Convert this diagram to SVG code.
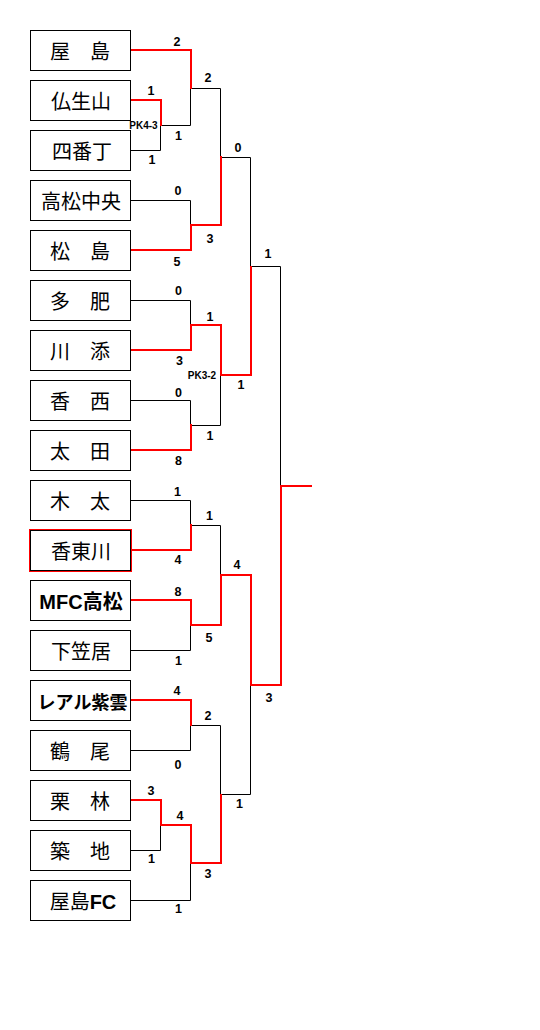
<svg xmlns="http://www.w3.org/2000/svg" width="540" height="1030" viewBox="0 0 540 1030">
<style>
.box{fill:#fff;stroke:#000;stroke-width:1}
.nm{font-family:"Liberation Sans","Noto Sans CJK JP",sans-serif;font-size:20px;text-anchor:middle;fill:#000}
.b{font-weight:bold}
.sm{font-size:18px}
.blk{fill:none;stroke:#000;stroke-width:1}
.red{fill:none;stroke:#ff0000;stroke-width:2;stroke-linecap:square;stroke-linejoin:miter}
.sc{font-family:"Liberation Sans",Arial,sans-serif;font-size:12.5px;font-weight:bold;text-anchor:middle;fill:#000}
.pk{font-family:"Liberation Sans",Arial,sans-serif;font-size:10px;font-weight:bold;text-anchor:middle;fill:#000}
</style>
<rect width="540" height="1030" fill="#fff"/>
<g id="connectors">
<path class="blk" d="M130 150.5H160.5V125.5 M160.5 125.5H190.5V88.5 M190.5 88.5H220.5V157.5 M130 200.5H190.5V225 M220.5 157.5H250.5V266.5 M130 300.5H190.5V325 M130 400.5H190.5V425.5 M190.5 425.5H220.5V375 M250.5 266.5H280.5V486 M130 500.5H190.5V525.5 M190.5 525.5H220.5V575 M130 650.5H190.5V625 M130 750.5H190.5V725.5 M190.5 725.5H220.5V794.5 M130 850.5H160.5V825 M130 900.5H190.5V863 M220.5 794.5H250.5V685"/>
<path class="red" d="M131 100H161V125"/>
<path class="red" d="M131 50H191V88"/>
<path class="red" d="M131 250H191V225H221V157"/>
<path class="red" d="M131 350H191V325H221V375H251V267"/>
<path class="red" d="M131 450H191V425"/>
<path class="red" d="M131 550H191V525"/>
<path class="red" d="M131 600H191V625H221V575H251V685H281V486H311"/>
<path class="red" d="M131 700H191V725"/>
<path class="red" d="M131 800H161V825H191V863H221V795"/>
</g>
<g id="scores">
<text class="sc" x="177" y="46">2</text>
<text class="sc" x="208" y="82">2</text>
<text class="sc" x="151" y="95">1</text>
<text class="pk" x="143.5" y="129">PK4-3</text>
<text class="sc" x="178.5" y="140">1</text>
<text class="sc" x="152" y="164">1</text>
<text class="sc" x="238" y="152">0</text>
<text class="sc" x="178" y="195">0</text>
<text class="sc" x="210" y="243">3</text>
<text class="sc" x="177" y="266">5</text>
<text class="sc" x="268" y="258">1</text>
<text class="sc" x="178.5" y="295">0</text>
<text class="sc" x="210" y="321">1</text>
<text class="sc" x="179.5" y="365">3</text>
<text class="pk" x="202" y="379">PK3-2</text>
<text class="sc" x="241" y="389">1</text>
<text class="sc" x="178.5" y="397">0</text>
<text class="sc" x="210" y="440">1</text>
<text class="sc" x="178.5" y="465">8</text>
<text class="sc" x="177.5" y="496">1</text>
<text class="sc" x="209.5" y="520">1</text>
<text class="sc" x="178" y="564">4</text>
<text class="sc" x="237" y="569">4</text>
<text class="sc" x="178" y="596">8</text>
<text class="sc" x="209" y="642">5</text>
<text class="sc" x="178.5" y="665">1</text>
<text class="sc" x="177" y="695">4</text>
<text class="sc" x="269" y="702">3</text>
<text class="sc" x="208" y="720">2</text>
<text class="sc" x="178" y="769">0</text>
<text class="sc" x="151" y="795">3</text>
<text class="sc" x="239.5" y="808">1</text>
<text class="sc" x="180" y="820">4</text>
<text class="sc" x="151.5" y="863">1</text>
<text class="sc" x="208" y="878">3</text>
<text class="sc" x="178.5" y="913">1</text>
</g>
<g id="team-yashima"><rect class="box" x="30.5" y="30.5" width="100" height="40"/><text class="nm" x="80" y="59">屋　島</text></g>
<g id="team-busshozan"><rect class="box" x="30.5" y="80.5" width="100" height="40"/><text class="nm" x="81" y="109">仏生山</text></g>
<g id="team-banchou"><rect class="box" x="30.5" y="130.5" width="100" height="40"/><text class="nm" x="82" y="159">四番丁</text></g>
<g id="team-takamatsuchuo"><rect class="box" x="30.5" y="180.5" width="100" height="40"/><text class="nm" x="81" y="209">高松中央</text></g>
<g id="team-matsushima"><rect class="box" x="30.5" y="230.5" width="100" height="40"/><text class="nm" x="80" y="259">松　島</text></g>
<g id="team-tahi"><rect class="box" x="30.5" y="280.5" width="100" height="40"/><text class="nm" x="80" y="309">多　肥</text></g>
<g id="team-kawazoe"><rect class="box" x="30.5" y="330.5" width="100" height="40"/><text class="nm" x="80" y="359">川　添</text></g>
<g id="team-kouzai"><rect class="box" x="30.5" y="380.5" width="100" height="40"/><text class="nm" x="80" y="409">香　西</text></g>
<g id="team-ota"><rect class="box" x="30.5" y="430.5" width="100" height="40"/><text class="nm" x="80" y="459">太　田</text></g>
<g id="team-kita"><rect class="box" x="30.5" y="480.5" width="100" height="40"/><text class="nm" x="80" y="509">木　太</text></g>
<g id="team-koutougawa"><rect x="29.5" y="529.5" width="102" height="42" fill="none" stroke="#ff0000" stroke-width="1"/><rect class="box" x="30.5" y="530.5" width="100" height="40"/><text class="nm" x="81" y="559">香東川</text></g>
<g id="team-mfc"><rect class="box" x="30.5" y="580.5" width="100" height="40"/><text class="nm b" x="81" y="609">MFC高松</text></g>
<g id="team-shimokasai"><rect class="box" x="30.5" y="630.5" width="100" height="40"/><text class="nm" x="81" y="659">下笠居</text></g>
<g id="team-real"><rect class="box" x="30.5" y="680.5" width="100" height="40"/><text class="nm b sm" x="82.5" y="708.5">レアル紫雲</text></g>
<g id="team-tsuruo"><rect class="box" x="30.5" y="730.5" width="100" height="40"/><text class="nm" x="80" y="759">鶴　尾</text></g>
<g id="team-ritsurin"><rect class="box" x="30.5" y="780.5" width="100" height="40"/><text class="nm" x="80" y="809">栗　林</text></g>
<g id="team-chikkou"><rect class="box" x="30.5" y="830.5" width="100" height="40"/><text class="nm" x="80" y="859">築　地</text></g>
<g id="team-yashimafc"><rect class="box" x="30.5" y="880.5" width="100" height="40"/><text class="nm" x="83" y="909">屋島<tspan font-weight="bold">FC</tspan></text></g>
</svg>
